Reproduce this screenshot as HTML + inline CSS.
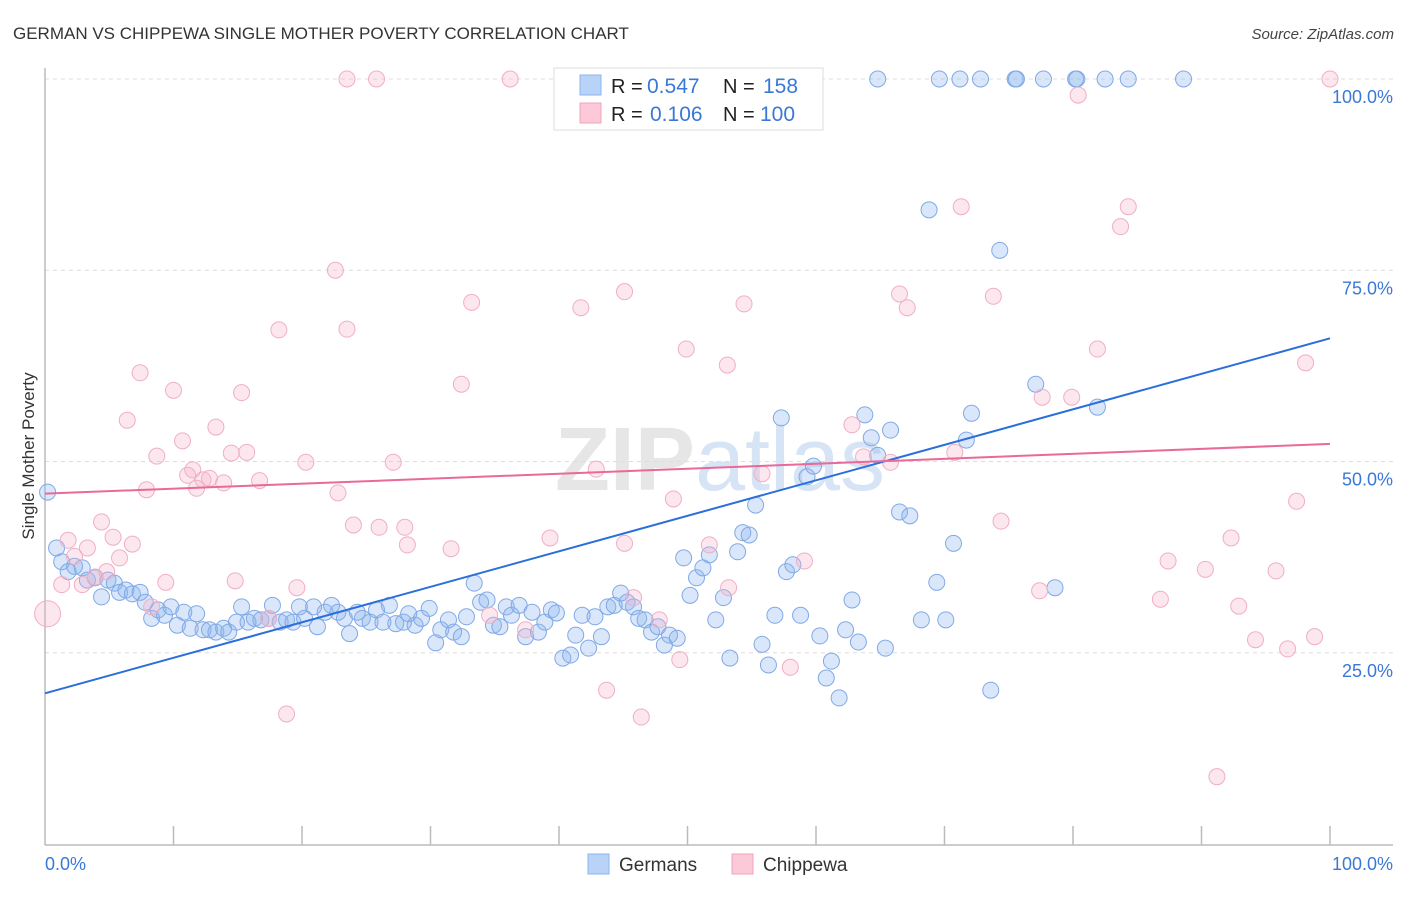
<!DOCTYPE html>
<html><head><meta charset="utf-8"><style>
body{margin:0;background:#fff;font-family:"Liberation Sans",sans-serif;}
svg text{font-family:"Liberation Sans",sans-serif;}
</style></head><body>
<svg id="chart" width="1406" height="892" xmlns="http://www.w3.org/2000/svg">
<text x="13" y="39" font-size="17" fill="#333">GERMAN VS CHIPPEWA SINGLE MOTHER POVERTY CORRELATION CHART</text>
<text x="1394" y="39" font-size="15" fill="#444" text-anchor="end" font-style="italic">Source: ZipAtlas.com</text>
<text x="720" y="490" font-size="90" fill="#e6e6e6" text-anchor="middle" font-family="Liberation Serif" font-weight="bold">ZIP<tspan fill="#d6e4f5" font-family="Liberation Sans" font-weight="normal">atlas</tspan></text>
<text transform="translate(34,456) rotate(-90)" font-size="17" fill="#333" text-anchor="middle">Single Mother Poverty</text>
<g id="grid"></g><g id="axes"></g><g id="pts"></g><g id="trends"></g>
<g>
<rect x="554" y="68" width="269" height="62" fill="#fff" stroke="#ddd"/>
<rect x="580" y="75" width="21" height="20" fill="#b8d3f7" stroke="#8ab4ec"/>
<rect x="580" y="103" width="21" height="20" fill="#fbc9d8" stroke="#f0a3bc"/>
<text x="611" y="93" font-size="20" fill="#222">R =</text>
<text x="647" y="93" font-size="21" fill="#3a78d8">0.547</text>
<text x="723" y="93" font-size="20" fill="#222">N =</text>
<text x="763" y="93" font-size="21" fill="#3a78d8">158</text>
<text x="611" y="121" font-size="20" fill="#222">R =</text>
<text x="650" y="121" font-size="21" fill="#3a78d8">0.106</text>
<text x="723" y="121" font-size="20" fill="#222">N =</text>
<text x="760" y="121" font-size="21" fill="#3a78d8">100</text>
</g>
<g>
<rect x="588" y="854" width="21" height="20" fill="#b8d3f7" stroke="#8ab4ec"/>
<text x="619" y="871" font-size="19" fill="#333">Germans</text>
<rect x="732" y="854" width="21" height="20" fill="#fbc9d8" stroke="#f0a3bc"/>
<text x="763" y="871" font-size="19" fill="#333">Chippewa</text>
</g>
</svg>
<script>
const yTicks=[25,50,75,100];
const yTickLabels=["25.0%","50.0%","75.0%","100.0%"];
const germanX=[0.2,0.9,1.3,1.8,2.3,2.9,3.3,3.9,4.4,4.9,5.4,5.8,6.3,6.8,7.4,7.8,8.3,8.8,9.3,9.8,10.3,10.8,11.3,11.8,12.3,12.8,13.3,13.9,14.3,14.9,15.3,15.8,16.3,16.8,17.4,17.7,18.3,18.8,19.3,19.8,20.2,20.9,21.2,21.8,22.3,22.8,23.3,23.7,24.3,24.7,25.3,25.8,26.3,26.8,27.3,27.9,28.3,28.8,29.3,29.9,30.4,30.8,31.4,31.8,32.4,32.8,33.4,33.9,34.4,34.9,35.4,35.9,36.3,36.9,37.4,37.9,38.4,38.9,39.4,39.8,40.3,40.9,41.3,41.8,42.3,42.8,43.3,43.8,44.3,44.8,45.3,45.8,46.2,46.7,47.2,47.7,48.2,48.6,49.2,49.7,50.2,50.7,51.2,51.7,52.2,52.8,53.3,53.9,54.3,54.8,55.3,55.8,56.3,56.8,57.3,57.7,58.2,58.8,59.3,59.8,60.3,60.8,61.2,61.8,62.3,62.8,63.3,63.8,64.3,64.8,65.4,65.8,66.5,67.3,68.2,68.8,69.4,70.1,70.7,71.7,72.1,73.6,74.3,77.1,78.6,81.9,64.8,69.6,71.2,72.8,75.5,75.6,77.7,80.2,80.3,82.5,84.3,88.6];
const germanY=[46.0,38.7,36.9,35.6,36.3,36.1,34.5,34.8,32.3,34.5,34.1,32.9,33.2,32.7,32.9,31.6,29.5,30.6,29.9,31.0,28.6,30.3,28.2,30.1,28.0,28.0,27.7,28.2,27.7,29.0,31.0,29.0,29.5,29.3,29.5,31.2,29.0,29.3,29.0,31.0,29.5,31.0,28.4,30.3,31.2,30.3,29.5,27.5,30.3,29.5,29.0,30.6,29.0,31.2,28.8,29.0,30.1,28.6,29.5,30.8,26.3,28.0,29.3,27.7,27.1,29.7,34.1,31.6,31.9,28.6,28.4,31.0,29.9,31.2,27.1,30.3,27.7,29.0,30.6,30.2,24.3,24.7,27.3,29.9,25.6,29.7,27.1,31.0,31.2,32.8,31.6,31.0,29.5,29.3,27.7,28.4,26.0,27.3,26.9,37.4,32.5,34.8,36.1,37.8,29.3,32.2,24.3,38.2,40.7,40.4,44.3,26.1,23.4,29.9,55.7,35.6,36.5,29.9,48.0,49.4,27.2,21.7,23.9,19.1,28.0,31.9,26.4,56.1,53.1,50.8,25.6,54.1,43.4,42.9,29.3,82.9,34.2,29.3,39.3,52.8,56.3,20.1,77.6,60.1,33.5,57.1,100,100,100,100,100,100,100,100,100,100,100,100];
const chippewaX=[0.2,1.3,1.8,2.3,2.9,3.3,3.9,4.4,4.8,5.3,5.8,6.4,6.8,7.4,7.9,8.3,8.7,9.4,10.0,10.7,11.1,11.5,11.8,12.3,12.8,13.3,13.9,14.5,14.8,15.3,15.7,16.7,17.4,18.2,18.8,19.6,20.3,22.6,22.8,23.5,24.0,23.5,25.8,26.0,27.1,28.0,28.2,31.6,32.4,33.2,34.6,36.2,37.4,39.3,41.7,42.9,43.7,45.1,45.1,45.8,46.4,47.8,48.9,49.4,49.9,51.7,53.1,53.2,54.4,55.8,58.0,59.1,62.8,63.7,65.8,66.5,67.1,70.8,71.3,73.8,74.4,77.4,77.6,79.9,80.4,81.9,83.7,84.3,86.8,87.4,90.3,91.2,92.3,92.9,94.2,95.8,96.7,97.4,98.1,98.8,100];
const chippewaY=[30.1,33.9,39.7,37.6,33.9,38.7,34.9,42.1,35.6,40.1,37.4,55.4,39.2,61.6,46.3,31.0,50.7,34.2,59.3,52.7,48.2,48.9,46.5,47.6,47.8,54.5,47.2,51.1,34.4,59.0,51.2,47.5,29.5,67.2,17.0,33.5,49.9,75.0,45.9,67.3,41.7,100,100,41.4,49.9,41.4,39.1,38.6,60.1,70.8,29.9,100,28.0,40.0,70.1,49.0,20.1,72.2,39.3,32.2,16.6,29.3,45.1,24.1,64.7,39.1,62.6,33.5,70.6,48.4,23.1,37.0,54.8,50.6,49.9,71.9,70.1,51.2,83.3,71.6,42.2,33.1,58.4,58.4,97.9,64.7,80.7,83.3,32.0,37.0,35.9,8.8,40.0,31.1,26.7,35.7,25.5,44.8,62.9,27.1,100];
const germanTrend=[19.7,66.1];
const chippewaTrend=[45.8,52.3];
const NS="http://www.w3.org/2000/svg";
const X=v=>45+v*12.85, Y=v=>844-v*7.65;
function mk(tag,attrs,parent){const e=document.createElementNS(NS,tag);for(const k in attrs)e.setAttribute(k,attrs[k]);parent.appendChild(e);return e;}
const grid=document.getElementById('grid'),axes=document.getElementById('axes');
yTicks.forEach((t,i)=>{
 const l=mk('line',{x1:45,x2:1393,y1:Y(t),y2:Y(t),stroke:'#ddd','stroke-dasharray':'4,4'},grid);
 
 
 const tx=mk('text',{x:1393,y:Y(t)+24,'font-size':18,fill:'#3a78d8','text-anchor':'end'},axes);
 tx.textContent=yTickLabels[i];
 
 
});
let a=mk('line',{x1:45,x2:45,y1:68,y2:845,stroke:'#bbb','stroke-width':1.5},axes);


a=mk('line',{x1:45,x2:1393,y1:845,y2:845,stroke:'#bbb','stroke-width':1.5},axes);


for(let i=1;i<=10;i++){const t=mk('line',{x1:X(i*10),x2:X(i*10),y1:826,y2:845,stroke:'#bbb','stroke-width':1.5},axes);
 
 }
let xl=mk('text',{x:45,y:870,'font-size':18,fill:'#3a78d8'},axes);xl.textContent='0.0%';


xl=mk('text',{x:1393,y:870,'font-size':18,fill:'#3a78d8','text-anchor':'end'},axes);xl.textContent='100.0%';


const pts=document.getElementById('pts');
germanX.forEach((v,i)=>{const c=mk('circle',{cx:X(v),cy:Y(germanY[i]),r:8,fill:'rgba(140,180,240,0.32)',stroke:'#80a9e6','stroke-width':1},pts);
 
 });
chippewaX.forEach((v,i)=>{const c=mk('circle',{cx:X(v),cy:Y(chippewaY[i]),r:i==0?13:8,fill:'rgba(248,175,200,0.3)',stroke:'#f0aec4','stroke-width':1},pts);
 
 });
const tr=document.getElementById('trends');
let t1=mk('line',{x1:X(0),y1:Y(germanTrend[0]),x2:X(100),y2:Y(germanTrend[1]),stroke:'#2a6fdb','stroke-width':2},tr);


let t2=mk('line',{x1:X(0),y1:Y(chippewaTrend[0]),x2:X(100),y2:Y(chippewaTrend[1]),stroke:'#e8699a','stroke-width':2},tr);


</script>
</body></html>
